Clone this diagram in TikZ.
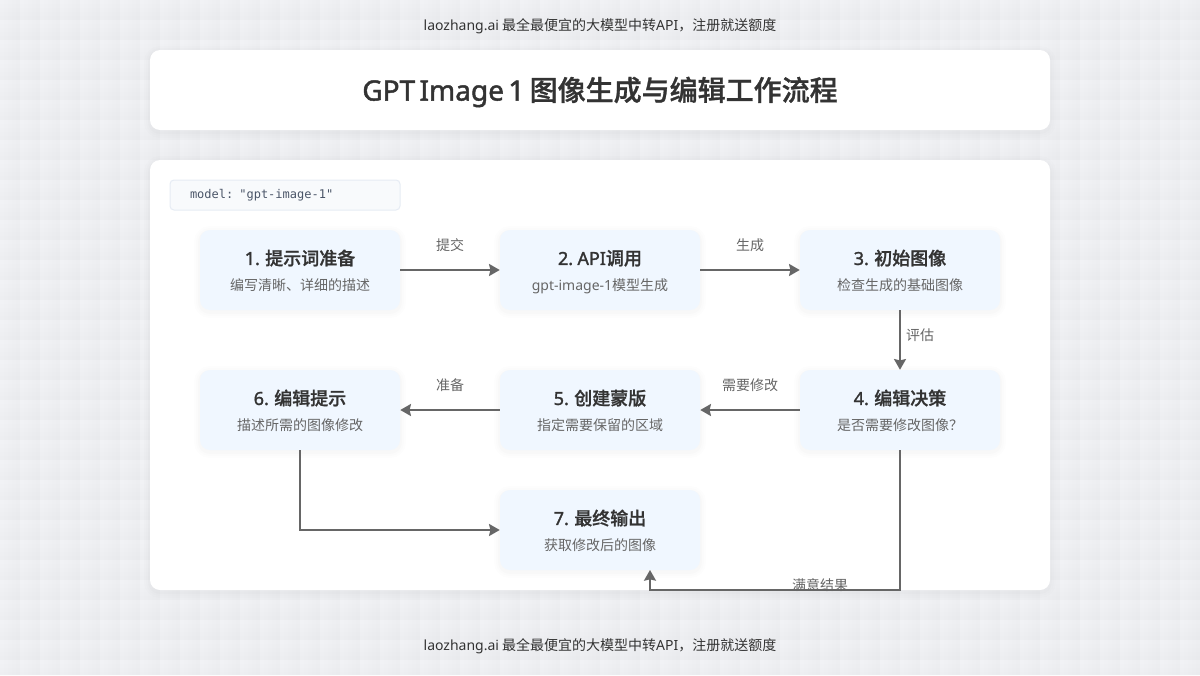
\documentclass[tikz,border=0pt]{standalone}
\usepackage{fontspec}
\setmainfont{Noto Sans CJK SC}
\newfontfamily\medfont[UprightFont=* Medium,FakeBold=1.1]{Noto Sans CJK SC}
\newfontfamily\latfont{Noto Sans}
\newfontfamily\latmedfont[FakeBold=1.6,WordSpace=0.6]{Noto Sans}
\setmonofont{DejaVu Sans Mono}
\usetikzlibrary{arrows.meta}
\newcommand{\lat}[1]{{\latfont #1}}
\newcommand{\latm}[1]{{\latmedfont #1}}
\definecolor{pagebg}{HTML}{F1F2F5}
\definecolor{stepfill}{HTML}{F0F7FF}
\definecolor{codefill}{HTML}{F8FAFC}
\definecolor{codeline}{HTML}{E6ECF4}
\definecolor{codetext}{HTML}{4A5568}
\definecolor{flowline}{HTML}{666666}
\definecolor{darktext}{HTML}{333333}
\definecolor{softtext}{HTML}{666666}
\tikzset{
  softshadow/.style={
    preaction={fill=none,draw=black,draw opacity=.006,line width=9pt,transform canvas={yshift=-1.5pt}},
    preaction={fill=none,draw=black,draw opacity=.008,line width=6pt,transform canvas={yshift=-1.5pt}},
    preaction={fill=none,draw=black,draw opacity=.012,line width=3pt,transform canvas={yshift=-1.5pt}}},
  panel/.style={softshadow,fill=white,rounded corners=7.5pt,inner sep=0pt},
  stepbox/.style={softshadow,fill=stepfill,rounded corners=7.5pt,minimum width=150pt,minimum height=60pt,
    inner sep=0pt,align=center},
  flow/.style={draw=flowline,line width=1.5pt,-{Stealth[length=8pt,width=9pt,inset=1pt]}},
  flowlabel/.style={text=softtext,font=\fontsize{10.5pt}{13pt}\selectfont,inner sep=0pt},
  noticetext/.style={text=darktext,font=\fontsize{10.5pt}{13pt}\selectfont,inner sep=0pt},
}
\newcommand{\steptext}[2]{\rule{0pt}{17pt}{\fontsize{13.5pt}{16pt}\medfont\color{darktext}#1}\\[7pt]{\fontsize{10.5pt}{13pt}\selectfont\color{softtext}#2}\rule[-5.6pt]{0pt}{0pt}}
\begin{document}
\begin{tikzpicture}[x=0.75pt,y=-0.75pt]
  \useasboundingbox (0,0) rectangle (1200,675);
  \fill[pagebg] (0,0) rectangle (1200,675);
  \foreach \x in {0,20,...,1180} {
    \foreach \d in {4,8,12,16}
      \fill[black,opacity=.005] (\x+\d,0) rectangle (\x+20,675);
  }
  \foreach \y in {0,20,...,660} {
    \foreach \d in {4,8,12,16}
      \fill[black,opacity=.005] (0,\y+\d) rectangle (1200,\y+20);
  }

  \node[noticetext] (topnote) at (600,26) {\lat{laozhang.ai} 最全最便宜的大模型中转\lat{API}，注册就送额度};
  \node[noticetext] (bottomnote) at (600,646) {\lat{laozhang.ai} 最全最便宜的大模型中转\lat{API}，注册就送额度};

  \node[panel,minimum width=675pt,minimum height=60pt] (titlepanel) at (600,90) {};
  \node[text=darktext,inner sep=0pt] (titletext) at (600,92)
    {\fontsize{21pt}{25pt}\medfont\latm{GPT Image 1}\hspace{4pt}图像生成与编辑工作流程};
  \node[panel,minimum width=675pt,minimum height=322.5pt] (mainpanel) at (600,375) {};

  \node[draw=codeline,fill=codefill,line width=.75pt,rounded corners=3pt,minimum width=172.5pt,minimum height=22.5pt,
    inner sep=0pt,text width=142.5pt,text=codetext,font=\ttfamily\fontsize{9pt}{11pt}\selectfont] (modelbox) at (285,195)
    {model: "gpt-image-1"};

  \node[stepbox] (prompt) at (300,270) {\steptext{\latm{1.} 提示词准备}{编写清晰、详细的描述}};
  \node[stepbox] (apicall) at (600,270) {\steptext{\latm{2. API}调用}{\lat{gpt-image-1}模型生成}};
  \node[stepbox] (initial) at (900,270) {\steptext{\latm{3.} 初始图像}{检查生成的基础图像}};
  \node[stepbox] (decision) at (900,410) {\steptext{\latm{4.} 编辑决策}{是否需要修改图像？}};
  \node[stepbox] (mask) at (600,410) {\steptext{\latm{5.} 创建蒙版}{指定需要保留的区域}};
  \node[stepbox] (editprompt) at (300,410) {\steptext{\latm{6.} 编辑提示}{描述所需的图像修改}};
  \node[stepbox] (output) at (600,530) {\steptext{\latm{7.} 最终输出}{获取修改后的图像}};

  \coordinate (outin) at (650,570);
  \draw[flow] (prompt) -- (apicall);
  \draw[flow] (apicall) -- (initial);
  \draw[flow] (initial) -- (decision);
  \draw[flow] (decision) -- (mask);
  \draw[flow] (mask) -- (editprompt);
  \draw[flow] (editprompt.south) |- (output.west);
  \draw[flow] (decision.south) |- (650,590) -- (outin);

  \node[flowlabel] (submitlabel) at (450,245) {提交};
  \node[flowlabel] (generatelabel) at (750,245) {生成};
  \node[flowlabel] (assesslabel) at (920,335) {评估};
  \node[flowlabel] (modifylabel) at (750,385) {需要修改};
  \node[flowlabel] (preparelabel) at (450,385) {准备};
  \node[flowlabel] (resultlabel) at (820,585) {满意结果};
\end{tikzpicture}
\end{document}
